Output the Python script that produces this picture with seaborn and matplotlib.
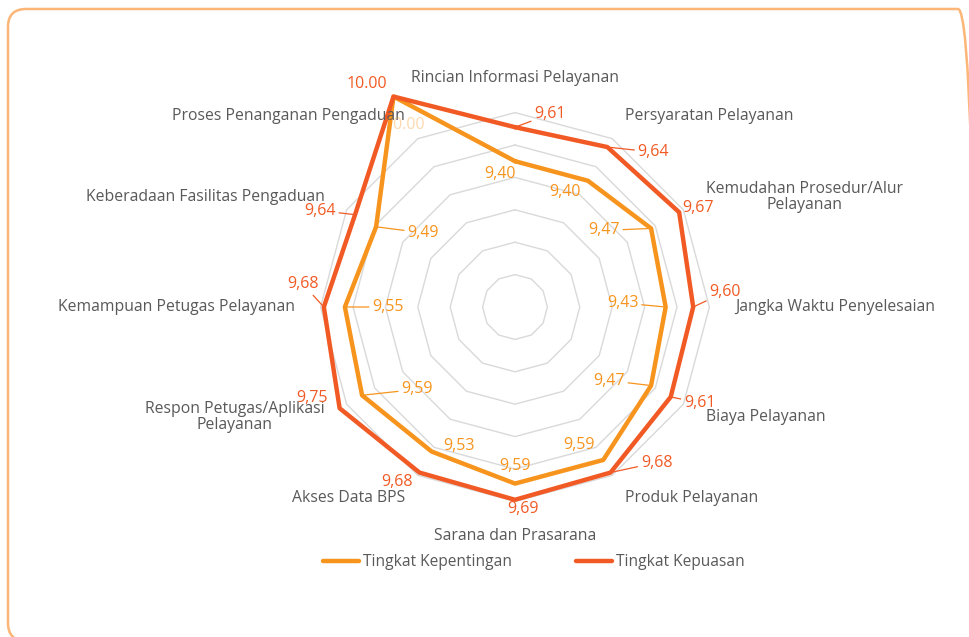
import numpy as np
import pandas as pd
import matplotlib
matplotlib.use("Agg")
import matplotlib.pyplot as plt
import seaborn as sns
from matplotlib.patches import FancyBboxPatch
from matplotlib.transforms import IdentityTransform
from matplotlib.lines import Line2D

categories = [
    "Rincian Informasi Pelayanan",
    "Persyaratan Pelayanan",
    "Kemudahan Prosedur/Alur\nPelayanan",
    "Jangka Waktu Penyelesaian",
    "Biaya Pelayanan",
    "Produk Pelayanan",
    "Sarana dan Prasarana",
    "Akses Data BPS",
    "Respon Petugas/Aplikasi\nPelayanan",
    "Kemampuan Petugas Pelayanan",
    "Keberadaan Fasilitas Pengaduan",
    "Proses Penanganan Pengaduan",
]
kepentingan = [9.40, 9.40, 9.47, 9.43, 9.47, 9.59, 9.59, 9.53, 9.59, 9.55, 9.49, 10.00]
kepuasan = [9.61, 9.64, 9.67, 9.60, 9.61, 9.68, 9.69, 9.68, 9.75, 9.68, 9.64, 10.00]
series_names = ["Tingkat Kepentingan", "Tingkat Kepuasan"]
ring_levels = [8.7, 8.9, 9.1, 9.3, 9.5, 9.7]

C_KEP = "#F7941D"
C_PUA = "#F15A24"
C_TXT = "#595959"
C_GRID = "#D9D9D9"

sns.set_theme(style="white")
plt.rcParams["font.family"] = ["Open Sans", "DejaVu Sans"]

W, H = 969, 637
fig = plt.figure(figsize=(W / 100, H / 100), dpi=100)

# rounded border (partly outside the picture on the right and bottom)
fig.patches.append(FancyBboxPatch((8, -4), 968, 632,
                                  boxstyle="round,pad=0,rounding_size=18",
                                  transform=IdentityTransform(), fill=False,
                                  edgecolor="#FBB678", linewidth=1.8))

rmin, rmax = 8.5, 10.05
ppu = 162.0  # pixels per unit
cx, cy = 515, 307
R = ppu * (rmax - rmin)
ax = fig.add_axes([(cx - R) / W, (H - cy - R) / H, 2 * R / W, 2 * R / H], projection="polar")
ax.set_theta_zero_location("N")
ax.set_theta_direction(-1)
ax.set_ylim(rmin, rmax)
ax.set_xticks([])
ax.set_yticks([])
ax.grid(False)
ax.spines["polar"].set_visible(False)
ax.patch.set_alpha(0)

n = len(categories)
theta = np.linspace(0, 2 * np.pi, n, endpoint=False)
theta_closed = np.append(theta, theta[0])

for lv in ring_levels:
    ax.plot(theta_closed, [lv] * (n + 1), color=C_GRID, lw=1.0, zorder=1)

df = pd.DataFrame({
    "theta": np.concatenate([theta_closed, theta_closed]),
    "value": np.concatenate([kepentingan + kepentingan[:1], kepuasan + kepuasan[:1]]),
    "series": [series_names[0]] * (n + 1) + [series_names[1]] * (n + 1),
})
sns.lineplot(data=df, x="theta", y="value", hue="series", units="series", estimator=None,
             sort=False, palette=[C_KEP, C_PUA], linewidth=3.2, ax=ax, legend=False, zorder=3)
ax.set_xlabel("")
ax.set_ylabel("")

# category labels
lab_r = rmin + 220 / ppu
for i, (t, c) in enumerate(zip(theta, categories)):
    s = np.sin(t)
    if abs(s) < 1e-6:
        ha = "center"
        va = "bottom" if np.cos(t) > 0 else "top"
        rr = rmin + 221 / ppu
    else:
        ha = "left" if s > 0 else "right"
        va = "center"
        rr = lab_r
    ax.text(t, rr, c, ha=ha, va=va, fontsize=11.3, color=C_TXT, multialignment="center",
            linespacing=1.0)

# data labels: offsets in pixels (dx, dy image-down), leader flag
kep_off = [(-15, 13, 0), (-23, 11, 0), (-47, 2, 1), (-43, -4, 1), (-42, -5, 1), (-24, -15, 0),
           (0, -18, 0), (27, -6, 0), (55, -6, 1), (43, 0, 1), (47, 6, 1), (11, 28, 0)]
pua_off = [(35, -13, 1), (46, 5, 1), (19, -4, 0), (32, -15, 1), (29, 6, 1), (46, -10, 1),
           (8, 9, 0), (-22, 9, 0), (-28, -10, 0), (-21, -23, 1), (-35, -4, 1), (-27, -13, 0)]


def fmt(v):
    return "10.00" if v >= 10 else f"{v:.2f}".replace(".", ",")


for vals, offs, col in [(kepentingan, kep_off, C_KEP), (kepuasan, pua_off, C_PUA)]:
    for i, (t, v) in enumerate(zip(theta, vals)):
        dx, dy, lead = offs[i]
        kw = {}
        if lead:
            kw["arrowprops"] = dict(arrowstyle="-", color=col, lw=0.9, shrinkA=0, shrinkB=0)
        alpha = 0.35 if (col == C_KEP and v >= 10) else 1.0
        ax.annotate(fmt(v), xy=(t, v), xytext=(dx, -dy), textcoords="offset pixels",
                    ha="center", va="center", fontsize=11.5, color=col, alpha=alpha,
                    zorder=5, annotation_clip=False, **kw)

# legend
handles = [Line2D([0], [0], color=C_KEP, lw=3.2, solid_capstyle="round"),
           Line2D([0], [0], color=C_PUA, lw=3.2, solid_capstyle="round")]
fig.legend(handles, series_names, loc="center", bbox_to_anchor=(534 / W, 1 - 562 / H),
           ncol=2, frameon=False, fontsize=11.2, handlelength=2.3, handletextpad=0.3,
           columnspacing=4.1, labelcolor=C_TXT)

fig.savefig("out.png", dpi=100, facecolor="white")
